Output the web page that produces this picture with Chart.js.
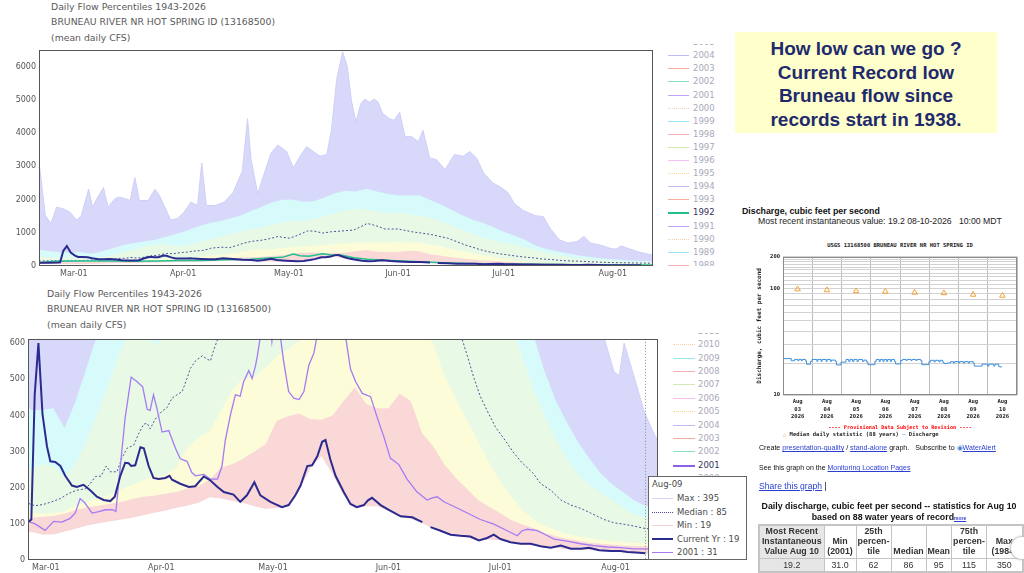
<!DOCTYPE html>
<html lang="en">
<head>
<meta charset="UTF-8">
<title>Bruneau River daily flow percentiles</title>
<script src="https://cdn.jsdelivr.net/npm/chart.js@4.4.1/dist/chart.umd.min.js"></script>
<style>
  html, body { margin: 0; padding: 0; }
  body { position: relative; width: 1024px; height: 573px; overflow: hidden; background: #fff;
         font-family: 'DejaVu Sans', Verdana, sans-serif; color: #333; }
  canvas { position: absolute; }
  .ptitle { position: absolute; font-size: 9.3px; line-height: 15.4px; color: #5a5a5a; white-space: nowrap; }
  .yrlist { position: absolute; left: 660px; width: 72px; overflow: hidden; }
  .yr { position: absolute; left: 0; width: 72px; height: 13px; font-size: 8.5px; line-height: 13px; color: #a9a9ba; white-space: nowrap; }
  .yr i { position: absolute; top: 6px; height: 0; border-top: 1.5px solid; }
  .yr span { position: absolute; top: 0; }
  .yr.on { color: #33335a; }
  .tip { position: absolute; left: 648px; top: 476px; width: 97px; height: 82px; background: #fff; border: 1px solid #666;
         font-size: 8.5px; color: #4a4a4a; }
  .tip div { position: absolute; left: 0; height: 13px; line-height: 13px; white-space: nowrap; }
  .tip i { position: absolute; left: 3px; top: 6px; width: 21px; height: 0; border-top: 1px solid; }
  .tip span { position: absolute; left: 28px; }
  .note { position: absolute; left: 735px; top: 32px; width: 262px; height: 101px; background: #ffffcc; box-sizing: border-box;
          padding-top: 5px; text-align: center; font-family: 'Liberation Sans', Arial, sans-serif; font-weight: bold;
          font-size: 19px; line-height: 23.7px; color: #1e2a6b; }
  .sans { position: absolute; font-family: 'Liberation Sans', Arial, sans-serif; white-space: pre; color: #111; }
  .mono { position: absolute; font-family: 'DejaVu Sans Mono', monospace; font-weight: bold; white-space: pre; color: #222; }
  .lnk { color: #2a3fd0; text-decoration: underline; }
  .stats { position: absolute; left: 758px; top: 524px; border-collapse: collapse; table-layout: fixed;
           font-family: 'Liberation Sans', Arial, sans-serif; font-size: 8.8px; border: 2px solid #c4c4c4; }
  .stats th { font-weight: bold; vertical-align: bottom; line-height: 10.2px; padding: 0 1px 1px; border: 1px solid #c4c4c4; text-align: center; }
  .stats td { text-align: center; border: 1px solid #c4c4c4; height: 12px; line-height: 12px; padding: 0; }
  .stats .g { background: #e6e6e6; }
  .knob { position: absolute; left: 1011px; top: 537px; width: 22px; height: 22px; border-radius: 50%; background: #fff;
          box-shadow: 0 0 2px 1px #bdbdbd; }
</style>
</head>
<body>

<div class="ptitle" style="left:51px; top:-1px;">Daily Flow Percentiles 1943-2026<br>BRUNEAU RIVER NR HOT SPRING ID (13168500)<br>(mean daily CFS)</div>
<canvas id="topChart" width="656" height="240" style="left:0; top:42px;"></canvas>
<div class="yrlist" id="topList" style="top:44px; height:222px;"></div>

<div class="ptitle" style="left:47px; top:286px;">Daily Flow Percentiles 1943-2026<br>BRUNEAU RIVER NR HOT SPRING ID (13168500)<br>(mean daily CFS)</div>
<canvas id="lowChart" width="660" height="242" style="left:0; top:331px;"></canvas>
<div class="yrlist" id="lowList" style="top:333px; height:227px;"></div>

<div class="tip">
  <div style="top:1px;"><span style="left:3px;">Aug-09</span></div>
  <div style="top:15px;"><i style="border-top-color:#d4d4f6;"></i><span>Max : 395</span></div>
  <div style="top:29px;"><i style="border-top:1.5px dotted #4b4b9a;"></i><span>Median : 85</span></div>
  <div style="top:42px;"><i style="border-top-color:#f6d0d0;"></i><span>Min : 19</span></div>
  <div style="top:56px;"><i style="border-top:2.5px solid #2b2b8f; top:5px;"></i><span>Current Yr : 19</span></div>
  <div style="top:69px;"><i style="border-top:1.5px solid #a57af2;"></i><span>2001 : 31</span></div>
</div>

<div class="note">How low can we go ?<br>Current Record low<br>Bruneau flow since<br>records start in 1938.</div>

<div class="sans" style="left:742px; top:206px; font-size:8.8px; font-weight:bold; line-height:11px;">Discharge, cubic feet per second</div>
<div class="sans" style="left:758px; top:216px; font-size:8.7px; line-height:11px; color:#222;">Most recent instantaneous value: 19.2 08-10-2026   10:00 MDT</div>
<div class="mono" style="left:783px; width:234px; top:242px; font-size:5.5px; line-height:7px; text-align:center;">USGS 13168500 BRUNEAU RIVER NR HOT SPRING ID</div>
<canvas id="usgsChart" width="276" height="178" style="left:748px; top:250px;"></canvas>
<div class="mono" style="left:783px; width:234px; top:424px; font-size:5.2px; line-height:7px; text-align:center; color:#f00;">---- Provisional Data Subject to Revision ----</div>
<div class="mono" style="left:783px; top:431px; font-size:5.5px; line-height:7px;"><span style="color:#f2a23a;">&#9651;</span> Median daily statistic (88 years) <span style="color:#6aaee8;">&mdash;</span> Discharge</div>
<div class="sans" style="left:759px; top:444px; font-size:7.1px; line-height:9px;">Create <span class="lnk">presentation-quality</span> / <span class="lnk">stand-alone</span> graph.   Subscribe to <span style="color:#3a7fd0;">&#9673;</span><span class="lnk">WaterAlert</span></div>
<div class="sans" style="left:759px; top:463px; font-size:7px; line-height:9px;">See this graph on the <span class="lnk">Monitoring Location Pages</span></div>
<div class="sans" style="left:759px; top:481px; font-size:8.6px; line-height:11px;"><span class="lnk">Share this graph</span> |</div>
<div class="sans" style="left:758px; width:262px; top:501px; font-size:8.8px; line-height:11px; font-weight:bold; text-align:center; white-space:normal;">Daily discharge, cubic feet per second -- statistics for Aug 10<br>based on 88 water years of record<span class="lnk" style="font-size:5px;">more</span></div>
<table class="stats">
  <colgroup><col style="width:65px"><col style="width:32px"><col style="width:35px"><col style="width:35px"><col style="width:23px"><col style="width:35px"><col style="width:36px"></colgroup>
  <tr><th class="g">Most Recent<br>Instantaneous<br>Value Aug 10</th><th>Min<br>(2001)</th><th>25th<br>percen-<br>tile</th><th>Median</th><th>Mean</th><th>75th<br>percen-<br>tile</th><th>Max<br>(1984)</th></tr>
  <tr><td class="g">19.2</td><td>31.0</td><td>62</td><td>86</td><td>95</td><td>115</td><td>350</td></tr>
</table>
<div class="knob"></div>

<script>
  // days counted from Mar-01 (Feb-19 = -10, Aug-09 = 161)
  const monthDays = [0, 31, 61, 92, 122, 153];
  const monthLabels = ['Mar-01', 'Apr-01', 'May-01', 'Jun-01', 'Jul-01', 'Aug-01'];
  const topTicks = [0, 1000, 2000, 3000, 4000, 5000, 6000];
  const lowTicks = [0, 100, 200, 300, 400, 500, 600];
  const hoverDay = 161;

  // percentile bands, every 3 days
  const bandDays = [-10, -7, -4, -1, 2, 5, 8, 11, 14, 17, 20, 23, 26, 29, 32, 35, 38, 41, 44, 47, 50, 53, 56, 59,
    62, 65, 68, 71, 74, 77, 80, 83, 86, 89, 92, 95, 98, 101, 104, 107, 110, 113, 116, 119, 122, 125, 128, 131,
    134, 137, 140, 143, 146, 149, 152, 155, 158, 161, 164];
  const p90Cfs = [480, 450, 415, 415, 420, 365, 440, 535, 630, 690, 740, 790, 870, 960, 1060, 1180, 1280, 1340, 1420,
    1500, 1640, 1770, 1900, 1990, 2000, 1930, 1950, 2050, 2180, 2260, 2240, 2320, 2240, 2170, 2120, 2120, 2130, 1990,
    1860, 1700, 1540, 1400, 1300, 1170, 1030, 920, 790, 620, 520, 440, 380, 325, 280, 240, 210, 188, 165, 150, 140];
  const p75Cfs = [280, 265, 250, 265, 260, 228, 268, 330, 410, 490, 580, 640, 660, 595, 615, 700, 780, 870, 950, 1030,
    1100, 1150, 1240, 1300, 1350, 1370, 1400, 1490, 1580, 1670, 1720, 1690, 1640, 1600, 1580, 1560, 1500, 1460, 1340,
    1230, 1100, 980, 860, 760, 700, 650, 560, 470, 400, 335, 280, 235, 208, 185, 165, 145, 126, 118, 106];
  const p25Cfs = [140, 135, 130, 128, 130, 135, 150, 161, 170, 179, 195, 206, 220, 231, 235, 255, 310, 338, 356, 412,
    470, 502, 505, 532, 563, 583, 605, 640, 660, 680, 700, 710, 700, 710, 720, 710, 700, 640, 600, 510, 448, 388, 330,
    270, 218, 175, 138, 112, 94, 83, 72, 65, 60, 56, 53, 50, 47, 46, 45];
  const p10Cfs = [110, 112, 116, 120, 122, 128, 138, 145, 150, 155, 160, 168, 175, 178, 183, 188, 198, 205, 222, 255,
    265, 280, 300, 320, 385, 398, 405, 390, 388, 400, 440, 478, 432, 420, 420, 460, 440, 352, 315, 265, 228, 198, 167,
    148, 130, 111, 98, 88, 75, 66, 58, 53, 48, 45, 42, 40, 39, 38, 37];
  const minCfs = [80, 78, 80, 72, 72, 80, 88, 97, 103, 108, 113, 118, 125, 132, 138, 146, 152, 160, 175, 172, 165, 160,
    150, 143, 145, 150, 195, 255, 290, 240, 180, 145, 150, 150, 137, 120, 115, 104, 88, 77, 68, 64, 55, 58, 57, 48, 44,
    42, 36, 35, 31, 30, 30, 26, 24, 23, 21, 19, 19];

  const maxDays = [-9.9, -8.1, -6.5, -4.9, -3, -1.1, 0.8, 2.1, 4.2, 5.3, 6.5, 8.4, 9.7, 11.6, 12.9, 14.8, 16, 17.3,
    18.6, 21.1, 23, 24.3, 27.5, 29.4, 31.3, 33.2, 35.1, 36.3, 37.6, 40.1, 42.7, 45.2, 47.8, 49.3, 50.3, 52.2, 54.1, 56,
    57.9, 60.4, 62.3, 64.2, 66.1, 68, 69.9, 71.8, 73.1, 74.6, 76.3, 77.6, 78.8, 80.1, 81.4, 82.6, 83.9, 85.2, 86.4, 87.7,
    89.6, 90.9, 92.5, 94, 95.9, 97.8, 99.1, 101, 102.9, 105.4, 108, 110.5, 112.4, 114.3, 116.3, 118.8, 121.3, 123.2,
    125.1, 127.6, 130.8, 133.3, 135.2, 137.8, 140.3, 142.9, 144.8, 146.7, 149.8, 152.6, 154, 155.3, 157.9, 160.7, 163.3, 164.4];
  const maxCfs = [3150, 1520, 1280, 1770, 1720, 1620, 1380, 1520, 2310, 1770, 2020, 2360, 1770, 2020, 2070, 2020, 1970,
    2660, 1970, 1970, 2310, 2120, 1380, 1430, 1620, 1920, 1820, 3100, 1820, 1820, 1920, 2210, 2850, 4430, 3200, 2170,
    2800, 3400, 3640, 3440, 2950, 3300, 3590, 3440, 3300, 3350, 4080, 5610, 6440, 6000, 4970, 4330, 4870, 5020, 4920,
    5020, 4920, 4580, 4430, 4380, 4620, 3890, 3890, 3740, 4080, 3250, 3200, 2900, 3350, 3300, 3440, 3250, 2800, 2510,
    2360, 2210, 1870, 1670, 1520, 1480, 1130, 790, 690, 740, 890, 690, 620, 520, 510, 600, 510, 410, 350, 330];

  const medianDays = [-10, -4.8, -2.9, -0.6, 1.6, 3.9, 6.1, 8.3, 10.6, 11.9, 13.3, 14.8, 16.2, 17.3, 19.1, 20.4, 21.8,
    23.6, 24.9, 26.3, 27.2, 28, 29.4, 31.2, 32.5, 33.9, 35.2, 36.6, 37.9, 38.8, 40.2, 42, 43.3, 44.2, 45.1, 46.4, 48,
    50.3, 53, 55.4, 57.9, 59.5, 61.1, 63, 66.3, 68.2, 70.6, 73.1, 75.7, 79.5, 81.4, 83.3, 85.8, 88.3, 92.1, 95.9, 101,
    106.1, 111.2, 113.2, 115, 116.7, 119, 120.8, 123, 125.7, 127.9, 130.7, 132.9, 135.6, 138.3, 141, 143.6, 146.3,
    149.9, 152.6, 155.2, 157.9, 160.6, 164];
  const medianCfs = [150, 157, 150, 154, 161, 170, 184, 193, 197, 211, 231, 232, 260, 244, 244, 282, 309, 318, 349, 376,
    378, 363, 390, 412, 421, 448, 457, 466, 502, 530, 551, 565, 556, 551, 582, 618, 680, 738, 770, 817, 886, 860, 836,
    900, 1053, 1050, 990, 1030, 1050, 1082, 1180, 1279, 1210, 1112, 1112, 1030, 955, 836, 630, 565, 502, 452, 403, 367,
    336, 296, 269, 242, 211, 193, 166, 152, 143, 130, 112, 103, 99, 94, 88, 84];

  const currentDays = [-10, -7, -4.5, -3.9, -3, -2, -0.9, 0.3, 1.2, 2.5, 3.9, 5.2, 7, 8.3, 10.1, 11.9, 13.7, 15.5, 17.3,
    18.5, 20, 21.3, 22.2, 22.9, 24, 25.4, 26.3, 27.6, 28.9, 30.3, 32.1, 33.2, 33.9, 36.1, 38.4, 40.1, 42.4, 44.2, 46.1,
    47.8, 50.4, 52.2, 54, 56, 57.6, 60.3, 63.4, 65.2, 67, 68.4, 70.2, 71.5, 72.9, 74.2, 75.1, 76.4, 77.8, 80, 81.8, 83.5,
    85.4, 86.5, 87.6, 89.9, 92.1, 95.3, 98.4, 101.1, 102.2, 103.3, 106, 108.7, 111.4, 114, 116.3, 118.5, 120.3, 122.1,
    124.8, 127.5, 130.2, 132.9, 135.6, 138.3, 141, 143.7, 145.9, 148.6, 151.7, 154.4, 156.2, 158.5, 161];
  const currentCfs = [95, 100, 107, 112, 457, 600, 403, 314, 273, 271, 260, 233, 206, 202, 208, 193, 175, 166, 163, 175,
    233, 269, 268, 260, 262, 312, 309, 260, 227, 224, 227, 233, 222, 211, 202, 204, 231, 220, 202, 188, 181, 161, 179,
    215, 179, 161, 146, 152, 179, 206, 260, 262, 287, 327, 332, 278, 233, 188, 155, 146, 152, 165, 172, 152, 139, 121,
    118, 105, null, 91, 81, 70, 67, 65, 54, 61, 70, 58, 49, 45, 45, 38, 34, 40, 31, 31, 34, 27, 25, 25, 22, 21, 19];

  const y2001Days = [-10, -4.8, -2.9, -0.2, 2.1, 4.3, 6.5, 7.9, 9.2, 10.4, 12.4, 14.2, 16, 17.9, 18.8, 20, 21.3, 22.9,
    24.5, 26, 27.2, 28, 28.9, 29.8, 31.2, 33, 34.8, 36.1, 37.9, 39.2, 40.2, 42.4, 44.2, 46.1, 47.3, 48.2, 49.6, 50.9,
    52.2, 53.1, 54.5, 55.4, 56.3, 56.8, 58.1, 60, 60.7, 61.3, 62.7, 63.9, 65.2, 66.6, 68, 69.3, 70.6, 72, 72.8, 74.5,
    76.5, 78.5, 80.5, 81.8, 83.2, 85, 87.2, 89, 90.8, 92.5, 94.8, 97, 99.7, 102.4, 103.8, 105.1, 106.9, 109.6, 113.2,
    116.7, 120.3, 123.9, 126.6, 127.9, 129.3, 132, 133.8, 136.5, 140, 143.6, 147.2, 150.8, 154.4, 157.9, 160.7, 164];
  const y2001Cfs = [105, 107, 100, 82, 107, 105, 115, 130, 170, 159, 130, 134, 139, 139, 134, 260, 394, 506, 493, 479,
    417, 414, 457, 421, 354, 358, 309, 280, 273, 242, 233, 237, 224, 224, 260, 332, 403, 457, 453, 493, 524, 502, 538,
    565, 650, 680, 605, 660, 640, 547, 466, 448, 444, 466, 538, 573, 618, 760, 800, 720, 618, 529, 493, 461, 452, 394,
    340, 282, 264, 224, 188, 166, 172, 175, 161, 148, 130, 112, 99, 81, 67, 81, 85, 81, 72, 58, 52, 45, 40, 36, 34, 31, 31, 30];

  const y1992Days = [-9.9, -5.5, -0.5, 4.6, 11, 17, 23.7, 30, 36.3, 42.7, 50.3, 55.4, 59.2, 62.3, 64.2, 66.8, 70.6,
    73.1, 75.7, 79.5, 83.3, 88.3, 93.4, 99.7, 106.1, 118.8, 131.4, 144, 164.4];
  const y1992Cfs = [100, 140, 150, 150, 150, 140, 150, 165, 165, 190, 200, 240, 260, 360, 310, 290, 370, 330, 330, 250,
    200, 170, 150, 120, 90, 60, 50, 40, 30];

  const topLegendYears = [2005, 2004, 2003, 2002, 2001, 2000, 1999, 1998, 1997, 1996, 1995, 1994, 1993, 1992, 1991, 1990, 1989, 1988];
  const lowLegendYears = [2011, 2010, 2009, 2008, 2007, 2006, 2005, 2004, 2003, 2002, 2001, 2000, 1999, 1998, 1997, 1996];

  // USGS instantaneous graph, hours from Aug-03 00:00
  const usgsDayLabels = ['03', '04', '05', '06', '07', '08', '09', '10'];
  const usgsTickHours = [0, 12, 24, 36, 48, 60, 72, 84, 96, 108, 120, 132, 144, 156, 168, 180, 192];
  const usgsGridCfs = [10, 20, 30, 40, 50, 60, 70, 80, 90, 100, 110, 120, 130, 140, 150, 160, 170, 180, 190, 200];
  const usgsTickLabels = [10, 100, 200];
  const usgsMedianHours = [12, 36, 60, 84, 108, 132, 156, 180];
  const usgsMedianCfs = [99, 97, 95, 94, 92, 91, 88, 86];
  const usgsHours = [0, 6.8, 9.5, 12.2, 13.1, 15, 15.8, 18.5, 19.3, 22.6, 23.9, 27.8, 28.6, 31.3, 32.1, 35.4, 36.2, 38.9,
    39.7, 43, 43.8, 47.6, 51.7, 53.9, 55, 57.1, 58.2, 60.7, 61.8, 65.3, 66.4, 68.6, 69.7, 75.4, 76.5, 78.9, 79.8, 82,
    82.9, 85, 85.9, 88.1, 89, 91.5, 92.4, 96.6, 98, 101, 101.9, 105, 105.9, 109, 109.9, 113, 113.9, 119.7, 121.1, 124,
    124.9, 128, 128.9, 131, 131.9, 134.7, 137.4, 140, 140.9, 144, 144.9, 148, 148.9, 152, 152.9, 156, 156.9, 163.3,
    168, 168.9, 173, 173.9, 177, 177.9, 179.6];
  const usgsCfs = [23.7, 22.0, 21.0, 21.6, 21.0, 21.6, 21.0, 21.6, 21.0, 19.5, 20.7, 21.6, 20.7, 21.6, 20.7, 21.6, 20.7,
    21.6, 20.7, 21.3, 20.7, 19.2, 20.4, 21.6, 20.7, 21.6, 20.7, 21.6, 20.7, 21.6, 20.7, 21.3, 20.5, 19.3, 20.7, 21.6,
    20.7, 21.6, 20.7, 21.6, 20.7, 21.6, 20.7, 21.6, 20.7, 19.6, 21.1, 21.6, 21.1, 21.6, 21.1, 21.6, 21.1, 21.6, 21.1,
    19.3, 20.5, 21.2, 20.5, 21.2, 20.5, 21.2, 20.5, 19.8, 20.0, 20.6, 20.0, 20.6, 20.0, 20.6, 20.0, 20.6, 20.0, 20.6,
    20.0, 18.7, 19.5, 18.7, 19.5, 18.7, 19.5, 18.5, 18.4];

  const yearColors = ['#f9cda6', '#c2a2f6', '#86e0bc', '#f5aca0', '#bdbdf3', '#f5d98c', '#f8c0f0', '#d3eab2', '#f6b0b4', '#92e9f5'];

  const pts = (xs, ys) => xs.map((x, i) => ({ x: x, y: ys[i] }));

  // box round the plot area, plus an optional dotted day marker
  const framePlugin = {
    id: 'frame',
    afterDraw(chart, args, opts) {
      const ctx = chart.ctx, a = chart.chartArea;
      ctx.save();
      if (opts.markDay != null) {
        const x = Math.round(chart.scales.x.getPixelForValue(opts.markDay)) + 0.5;
        ctx.strokeStyle = '#8a8a8a';
        ctx.lineWidth = 1;
        ctx.setLineDash([1, 2]);
        ctx.beginPath();
        ctx.moveTo(x, a.top);
        ctx.lineTo(x, a.bottom);
        ctx.stroke();
        ctx.setLineDash([]);
      }
      ctx.strokeStyle = opts.color || '#555';
      ctx.lineWidth = 1;
      ctx.strokeRect(Math.round(a.left) + 0.5, Math.round(a.top) + 0.5, Math.round(a.width) - 1, Math.round(a.height) - 1);
      ctx.restore();
    }
  };

  function band(label, vals, fill, line, width) {
    return { label: label, data: pts(bandDays, vals), fill: 'origin', backgroundColor: fill,
      borderColor: line || fill, borderWidth: width || 0, pointRadius: 0, clip: 0 };
  }

  function flowChart(id, cfg) {
    const sets = [
      { label: 'Current Yr', data: pts(currentDays, currentCfs), borderColor: '#2b2b8f', borderWidth: 2,
        pointRadius: 0, fill: false, spanGaps: false, clip: 0 },
      cfg.yearLine,
      { label: 'Median', data: pts(medianDays, medianCfs), borderColor: '#52529a', borderWidth: 1,
        borderDash: [2, 2], pointRadius: 0, fill: false, clip: 0 },
      band('Min', minCfs, '#ffffff', '#f6d4d4', 1),
      band('10th', p10Cfs, '#fad8d8'),
      band('25th', p25Cfs, '#fcfcd8'),
      band('75th', p75Cfs, '#e8fae5'),
      band('90th', p90Cfs, '#d7fafa'),
      { label: 'Max', data: pts(maxDays, maxCfs), fill: 'origin', backgroundColor: '#d8d8fa',
        borderColor: '#d0d0f6', borderWidth: 1, pointRadius: 0, clip: 0 }
    ];
    const tickFont = { family: 'DejaVu Sans', size: 8 };
    return new Chart(document.getElementById(id), {
      type: 'line',
      data: { datasets: sets },
      plugins: [framePlugin],
      options: {
        responsive: false,
        animation: false,
        events: [],
        layout: { padding: { top: 2, right: cfg.right, left: 0, bottom: 0 } },
        plugins: { legend: { display: false }, tooltip: { enabled: false }, frame: { color: '#555', markDay: cfg.markDay } },
        scales: {
          x: {
            type: 'linear', min: cfg.xMin, max: cfg.xMax,
            afterBuildTicks: s => { s.ticks = monthDays.map(v => ({ value: v })); },
            afterFit: s => { s.height = cfg.xHeight; },
            grid: { display: false, drawTicks: false }, border: { display: false },
            ticks: { autoSkip: false, maxRotation: 0, padding: 3, color: '#555', font: tickFont,
              callback: v => monthLabels[monthDays.indexOf(v)] }
          },
          y: {
            min: 0, max: cfg.yMax,
            afterBuildTicks: s => { s.ticks = cfg.yTicks.map(v => ({ value: v })); },
            afterFit: s => { s.width = cfg.yWidth; },
            grid: { display: false, drawTicks: false }, border: { display: false },
            ticks: { padding: 3, color: '#555', font: tickFont, callback: v => String(v) }
          }
        }
      }
    });
  }

  flowChart('topChart', {
    xMin: -9.9, xMax: 164.4, yMax: 6500, yTicks: topTicks, yWidth: 39, xHeight: 16, right: 3, markDay: null,
    yearLine: { label: '1992', data: pts(y1992Days, y1992Cfs), borderColor: '#22c08c', borderWidth: 1.5,
      pointRadius: 0, fill: false, clip: 0 }
  });

  flowChart('lowChart', {
    xMin: -4.8, xMax: 164.4, yMax: 612, yTicks: lowTicks, yWidth: 28, xHeight: 13, right: 2, markDay: hoverDay,
    yearLine: { label: '2001', data: pts(y2001Days, y2001Cfs), borderColor: '#a57af2', borderWidth: 1.3,
      pointRadius: 0, fill: false, clip: 0 }
  });

  function yearList(elId, years, firstCenter, step, lineLeft, lineWidth, textLeft, onYear, onColor) {
    const box = document.getElementById(elId);
    years.forEach((yr, k) => {
      const row = document.createElement('div');
      row.className = 'yr' + (yr === onYear ? ' on' : '');
      row.style.top = (firstCenter + step * k - 6.5) + 'px';
      const ln = document.createElement('i');
      ln.style.left = lineLeft + 'px';
      ln.style.width = lineWidth + 'px';
      if (yr === onYear) {
        ln.style.borderTop = '2px solid ' + onColor;
      } else {
        ln.style.borderTopColor = yearColors[yr % 10];
        if (yr % 5 === 0) ln.style.borderTopStyle = 'dotted';
      }
      const tx = document.createElement('span');
      tx.style.left = textLeft + 'px';
      tx.textContent = yr;
      row.appendChild(ln);
      row.appendChild(tx);
      box.appendChild(row);
    });
  }
  yearList('topList', topLegendYears, -1.4, 13.1, 8, 21, 33, 1992, '#22c08c');
  yearList('lowList', lowLegendYears, -1.7, 13.4, 13, 22, 38, 2001, '#8f5fe8');

  const monoFont = { family: 'DejaVu Sans Mono', size: 5.5, weight: 'bold', lineHeight: 1.35 };
  new Chart(document.getElementById('usgsChart'), {
    type: 'line',
    data: {
      datasets: [
        { label: 'Median daily statistic (88 years)', data: pts(usgsMedianHours, usgsMedianCfs), showLine: false,
          pointStyle: 'triangle', pointRadius: 3.2, pointBorderWidth: 1, borderColor: '#f2a23a',
          backgroundColor: 'rgba(0,0,0,0)' },
        { label: 'Discharge', data: pts(usgsHours, usgsCfs), stepped: 'after', borderColor: '#3d8fdc',
          borderWidth: 1, pointRadius: 0, fill: false }
      ]
    },
    plugins: [framePlugin],
    options: {
      responsive: false,
      animation: false,
      events: [],
      layout: { padding: { top: 6, right: 7, left: 0, bottom: 0 } },
      plugins: { legend: { display: false }, tooltip: { enabled: false }, frame: { color: '#8a8a8a', markDay: null } },
      scales: {
        x: {
          type: 'linear', min: 0, max: 192,
          afterBuildTicks: s => { s.ticks = usgsTickHours.map(v => ({ value: v })); },
          afterFit: s => { s.height = 33; },
          grid: { color: c => (c.tick && c.tick.value % 24 === 0) ? '#bdbdbd' : 'rgba(0,0,0,0)', drawTicks: false },
          border: { display: false },
          ticks: { autoSkip: false, maxRotation: 0, padding: 3, color: '#222', font: monoFont,
            callback: v => v % 24 === 12 ? ['Aug', usgsDayLabels[(v - 12) / 24], '2026'] : '' }
        },
        y: {
          type: 'logarithmic', min: 10, max: 200,
          afterBuildTicks: s => { s.ticks = usgsGridCfs.map(v => ({ value: v })); },
          afterFit: s => { s.width = 35; },
          grid: { color: '#d2d2d2', drawTicks: false },
          border: { display: false },
          ticks: { autoSkip: false, padding: 3, color: '#222', font: monoFont,
            callback: v => usgsTickLabels.includes(v) ? String(v) : '' },
          title: { display: true, text: 'Discharge, cubic feet per second', color: '#222',
            font: { family: 'DejaVu Sans Mono', size: 6, weight: 'bold' }, padding: { top: 8, bottom: 0 } }
        }
      }
    }
  });
</script>
</body>
</html>
